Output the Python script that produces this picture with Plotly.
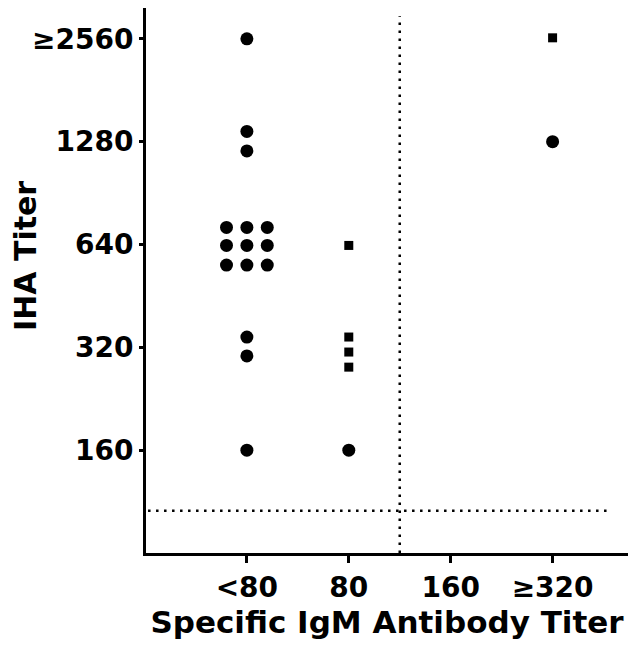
import plotly.graph_objects as go

# Categories (x) and IHA titer levels (y)
x_labels = ["<80", "80", "160", "≥320"]
x_ticks = [0, 1, 2, 3]
y_ticks = [160, 320, 640, 1280, 2560]
y_labels = ["160", "320", "640", "1280", "≥2560"]

# Circle patients: x category index (with small side offsets), IHA titer
circle_x = [0, 0, 0, -0.2, 0, 0.2, -0.2, 0, 0.2, -0.2, 0, 0.2, 0, 0, 0, 1, 3]
circle_y = [2560, 1372, 1203, 718, 718, 718, 636, 636, 636, 557, 557, 557, 343, 302, 160, 160, 1280]

# Square patients
square_x = [1, 1, 1, 1, 3]
square_y = [636, 343, 310, 280, 2578]

FAM = "DejaVu Sans, Verdana, sans-serif"
font = dict(family=FAM, color="black")

fig = go.Figure()
fig.add_trace(go.Scatter(x=circle_x, y=circle_y, mode="markers",
                         marker=dict(symbol="circle", size=13, color="black"),
                         showlegend=False))
fig.add_trace(go.Scatter(x=square_x, y=square_y, mode="markers",
                         marker=dict(symbol="square", size=9, color="black"),
                         showlegend=False))

# Dotted cut-off lines
fig.add_trace(go.Scatter(x=[1.5, 1.5], y=[80, 160 * 2 ** 4.22], mode="lines",
                         line=dict(color="black", width=2.5, dash="2.5px,5.5px"),
                         showlegend=False))
fig.add_trace(go.Scatter(x=[-0.97, 3.58], y=[160 * 2 ** -0.59] * 2, mode="lines",
                         line=dict(color="black", width=2.5, dash="2.5px,5.5px"),
                         showlegend=False))

fig.add_annotation(text="IHA Titer", xref="paper", yref="paper",
                   x=-146 / 482 + 25 / 482, y=(553 - 256) / 545,
                   xanchor="center", yanchor="middle", textangle=-90,
                   showarrow=False, font=dict(size=30, weight="bold", **font))

fig.update_layout(
    width=629, height=649,
    margin=dict(l=146, r=1, t=8, b=96),
    paper_bgcolor="white", plot_bgcolor="white",
    font=font,
    xaxis=dict(range=[-0.99, 3.74], tickvals=x_ticks, ticktext=x_labels,
               automargin=False,
               showgrid=False, zeroline=False, showline=True, linecolor="black",
               linewidth=3, ticks="outside", ticklen=7, tickwidth=2.5, tickcolor="black",
               tickfont=dict(size=28, weight="bold", **font),
               title=dict(text="Specific IgM Antibody Titer",
                          font=dict(size=31, weight="bold", **font), standoff=6)),
    yaxis=dict(type="log", range=[1.903, 3.4986], tickvals=y_ticks, ticktext=y_labels,
               automargin=False,
               showgrid=False, zeroline=False, showline=True, linecolor="black",
               linewidth=3, ticks="outside", ticklen=4, tickwidth=2.5, tickcolor="black",
               tickfont=dict(size=28, weight="bold", **font)),
)

fig.write_html("out.html",
               config={"displayModeBar": False},
               post_script="document.body.style.margin='0';"
                           "document.body.style.padding='0';"
                           "document.body.style.overflow='hidden';")
